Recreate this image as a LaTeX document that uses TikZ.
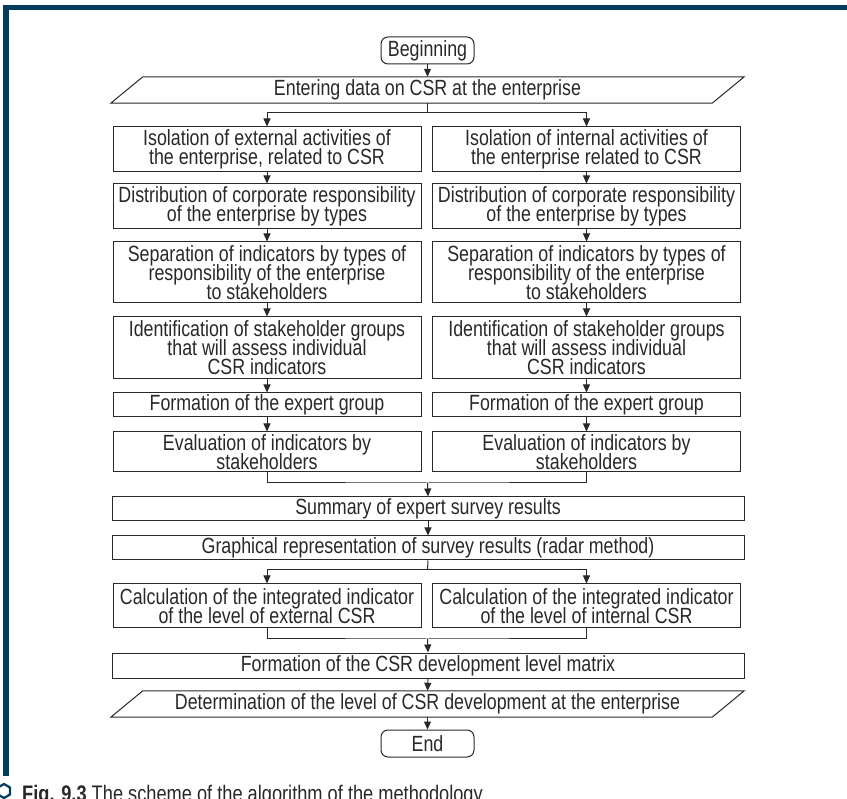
\documentclass[tikz,border=0pt]{standalone}
\usepackage{fontspec}
\setmainfont[FakeStretch=0.81]{Liberation Sans}
\usetikzlibrary{arrows.meta,calc}
\definecolor{frameblue}{RGB}{0,61,92}
\definecolor{ink}{RGB}{40,40,40}
\newcommand\boxfont{\fontsize{22}{19}\selectfont\lineskiplimit-20pt\relax}
\begin{document}
\begin{tikzpicture}[x=1pt,y=-1pt,
  every node/.style={font=\boxfont, text=ink},
  ln/.style={draw=ink, line width=1pt},
  arr/.style={ln, -{Triangle[length=8pt,width=7pt]}},
  box/.style={draw=ink, line width=1pt, rectangle, inner sep=0pt, align=center},
  colbox/.style={box, minimum width=308pt},
  widebox/.style={box, minimum width=632pt},
  term/.style={box, minimum width=93pt, minimum height=27pt, rounded corners=7pt},
  io/.style={rectangle, inner sep=0pt, minimum width=601pt, minimum height=26pt}
]
\useasboundingbox (0,0) rectangle (847,799);
% frame
\fill[frameblue] (3,5) rectangle (847,10);
\fill[frameblue] (3,5) rectangle (9,776);

% start
\node[term] (begin) at (427.5,50.5) {Beginning};
\node[io] (in) at (427.5,90) {Entering data on CSR at the enterprise};
\draw[ln] ([xshift=16pt]in.north west) -- ([xshift=16pt]in.north east) -- ([xshift=-16pt]in.south east) -- ([xshift=-16pt]in.south west) -- cycle;

% left column
\node[colbox, minimum height=45pt] (L1) at (267,149.5) {Isolation of external activities of\\the enterprise, related to CSR};
\node[colbox, minimum height=45pt] (L2) at (267,206.5) {Distribution of corporate responsibility\\of the enterprise by types};
\node[colbox, minimum height=61pt] (L3) at (267,272.5) {Separation of indicators by types of\\responsibility of the enterprise\\to stakeholders};
\node[colbox, minimum height=62pt] (L4) at (267,348) {Identification of stakeholder groups\\that will assess individual\\CSR indicators};
\node[colbox, minimum height=24pt] (L5) at (267,405) {Formation of the expert group};
\node[colbox, minimum height=40pt] (L6) at (267,452) {Evaluation of indicators by\\stakeholders};

% right column
\node[colbox, minimum height=45pt] (R1) at (586.5,149.5) {Isolation of internal activities of\\the enterprise related to CSR};
\node[colbox, minimum height=45pt] (R2) at (586.5,206.5) {Distribution of corporate responsibility\\of the enterprise by types};
\node[colbox, minimum height=61pt] (R3) at (586.5,272.5) {Separation of indicators by types of\\responsibility of the enterprise\\to stakeholders};
\node[colbox, minimum height=62pt] (R4) at (586.5,348) {Identification of stakeholder groups\\that will assess individual\\CSR indicators};
\node[colbox, minimum height=24pt] (R5) at (586.5,405) {Formation of the expert group};
\node[colbox, minimum height=40pt] (R6) at (586.5,452) {Evaluation of indicators by\\stakeholders};

% wide boxes
\node[widebox, minimum height=24pt] (sum) at (428,509) {Summary of expert survey results};
\node[widebox, minimum height=24pt] (graph) at (428,548) {Graphical representation of survey results (radar method)};

\node[colbox, minimum height=44pt] (CL) at (267,606) {Calculation of the integrated indicator\\of the level of external CSR};
\node[colbox, minimum height=44pt] (CR) at (586.5,606) {Calculation of the integrated indicator\\of the level of internal CSR};

\node[widebox, minimum height=25pt] (mat) at (428,665.5) {Formation of the CSR development level matrix};
\node[io] (out) at (427.5,704) {Determination of the level of CSR development at the enterprise};
\draw[ln] ([xshift=16pt]out.north west) -- ([xshift=16pt]out.north east) -- ([xshift=-16pt]out.south east) -- ([xshift=-16pt]out.south west) -- cycle;
\node[term] (end) at (427.5,743.5) {End};

% connectors
\draw[arr] (begin.south) -- (in.north);
\coordinate (s1) at (427.5,113);
\draw[ln] (in.south) -- (s1);
\draw[arr] (s1) -| (L1.north);
\draw[arr] (s1) -| (R1.north);
\foreach \a/\b in {L1/L2,L2/L3,L3/L4,L4/L5,L5/L6,R1/R2,R2/R3,R3/R4,R4/R5,R5/R6}
  \draw[arr] (\a.south) -- (\b.north);
\coordinate (m1) at (427.5,483);
\draw[ln] (L6.south) |- (m1) -| (R6.south);
\draw[arr] (m1) -- (sum.north);
\draw[arr] (sum.south) -- (graph.north);
\coordinate (s2) at (427.5,570);
\draw[ln] (graph.south) -- (s2);
\draw[arr] (s2) -| (CL.north);
\draw[arr] (s2) -| (CR.north);
\coordinate (m2) at (427.5,639);
\draw[ln] (CL.south) |- (m2) -| (CR.south);
\draw[arr] (m2) -- (mat.north);
\draw[arr] (mat.south) -- (out.north);
\draw[arr] (out.south) -- (end.north);

% caption
\draw[frameblue, line width=2.2pt] (4,784) -- (10,787.5) -- (10,794.5) -- (4,798) -- (-2,794.5) -- (-2,787.5) -- cycle;
\node[anchor=base west, inner sep=0pt, font=\fontsize{22.5}{22}\selectfont] (cap) at (22,801) {\textbf{Fig. 9.3} The scheme of the algorithm of the methodology};
\end{tikzpicture}
\end{document}
